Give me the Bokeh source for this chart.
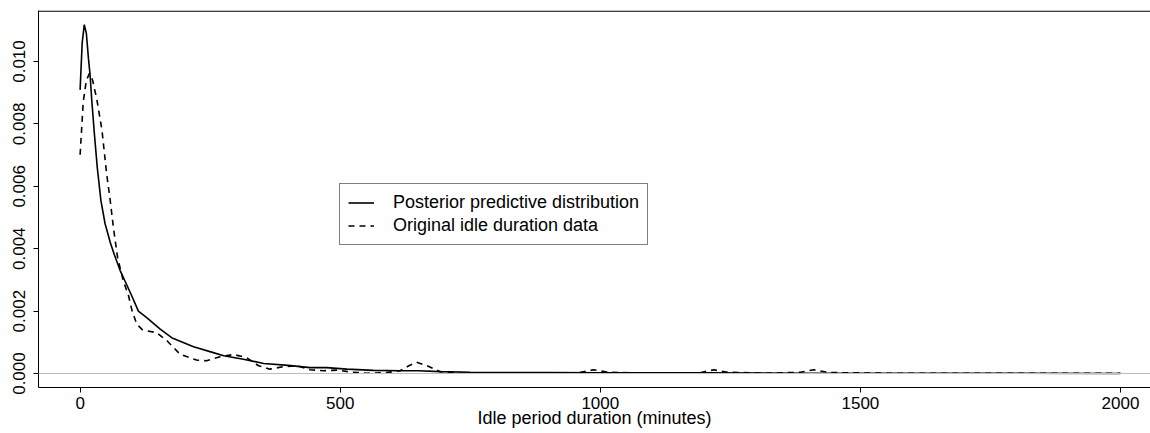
from bokeh.plotting import figure
from bokeh.models import Range1d, FixedTicker, PrintfTickFormatter, Span, Legend, LegendItem
from bokeh.embed import file_html
from bokeh.resources import INLINE

# Posterior predictive distribution (solid)
post_x = [0, 4, 8, 12, 16, 19, 22.5, 27.5, 33, 40, 48, 58, 66, 77, 88, 99, 112, 128, 154, 176,
          218, 256, 276, 314, 353, 400, 442, 474, 513, 564, 615, 650, 692, 750, 808, 900, 1000,
          1200, 1400, 1600, 1800, 2000]
post_y = [0.00909, 0.0106, 0.01118, 0.0109, 0.0101, 0.0096, 0.00874, 0.00767, 0.0066, 0.00554,
          0.0048, 0.0042, 0.0038, 0.0033, 0.0029, 0.0025, 0.0020, 0.00179, 0.00142, 0.00115,
          0.00086, 0.00067, 0.00057, 0.00046, 0.00032, 0.00026, 0.00019, 0.00019, 0.00014, 0.0001,
          0.00009, 0.00009, 0.00006, 0.00004, 0.00003, 0.00003, 0.00002, 0.00002, 0.00001, 0.00001,
          0.00001, 0.0]

# Original idle duration data (dashed)
orig_x = [0, 6, 12, 18, 24, 32, 42, 51, 58, 64, 72, 83, 93, 100, 109, 120, 128, 147, 167, 192,
          224, 243, 269, 295, 320, 343, 365, 391, 417, 442, 468, 494, 519, 551, 590, 615, 632, 647,
          667, 692, 730, 800, 900, 960, 987, 1015, 1100, 1190, 1218, 1245, 1320, 1385, 1410, 1440,
          1550, 1700, 1850, 2000]
orig_y = [0.00701, 0.0087, 0.0094, 0.00962, 0.0094, 0.0088, 0.0078, 0.0064, 0.00553, 0.00468,
          0.00372, 0.00297, 0.0025, 0.0020, 0.00158, 0.0014, 0.00137, 0.00131, 0.00105, 0.00062,
          0.00043, 0.00041, 0.00054, 0.00061, 0.00051, 0.00025, 0.00014, 0.00022, 0.00025, 0.00012,
          0.00009, 0.00011, 0.00005, 0.00001, 0.00003, 0.00009, 0.00025, 0.00036, 0.00025, 0.00006,
          0.00001, 0.00001, 0.00001, 0.00003, 0.00012, 0.00004, 0.00001, 0.00002, 0.00012, 0.00004,
          0.00001, 0.00004, 0.00012, 0.00003, 0.00001, 0.00001, 0.00001, 0.00001]

x_ticks = [0, 500, 1000, 1500, 2000]
y_ticks = [0.0, 0.002, 0.004, 0.006, 0.008, 0.010]
legend_labels = ["Posterior predictive distribution", "Original idle duration data"]
x_title = "Idle period duration (minutes)"

FONT = "Liberation Sans"
FS_TICK = "17px"
FS_TEXT = "18px"
Y_TOP = 0.011635

p = figure(frame_width=1112, frame_height=377, output_backend="svg", toolbar_location=None,
           x_range=Range1d(-80, 2057.7), y_range=Range1d(-0.000448, Y_TOP),
           min_border_left=38, min_border_right=0, min_border_top=10, min_border_bottom=40)
p.xgrid.visible = False
p.ygrid.visible = False
p.outline_line_color = None
p.background_fill_color = "white"
p.border_fill_color = "white"

p.add_layout(Span(location=0, dimension="width", line_color="#bebebe", line_width=1.2))
p.add_layout(Span(location=Y_TOP - 0.00002, dimension="width", line_color="black", line_width=1.2))

r1 = p.line(post_x, post_y, line_color="black", line_width=1.6)
r2 = p.line(orig_x, orig_y, line_color="black", line_width=1.6, line_dash="6 5")

xa = p.xaxis[0]
xa.ticker = FixedTicker(ticks=x_ticks)
xa.axis_label = x_title
xa.axis_label_text_font = FONT
xa.axis_label_text_font_size = FS_TEXT
xa.axis_label_text_font_style = "normal"
xa.axis_label_text_color = "black"
xa.axis_label_standoff = -4
xa.major_label_text_font = FONT
xa.major_label_text_font_size = FS_TICK
xa.major_label_text_color = "black"
xa.major_label_standoff = 4
xa.major_tick_out = 5
xa.major_tick_in = 0
xa.minor_tick_line_color = None
xa.axis_line_color = "black"
xa.major_tick_line_color = "black"

ya = p.yaxis[0]
ya.ticker = FixedTicker(ticks=y_ticks)
ya.formatter = PrintfTickFormatter(format="%.3f")
ya.major_label_orientation = "vertical"
ya.major_label_text_font = FONT
ya.major_label_text_font_size = FS_TICK
ya.major_label_text_color = "black"
ya.major_label_standoff = 8
ya.major_tick_out = 5
ya.major_tick_in = 0
ya.minor_tick_line_color = None
ya.axis_line_color = "black"
ya.major_tick_line_color = "black"

legend = Legend(items=[LegendItem(label=legend_labels[0], renderers=[r1]),
                       LegendItem(label=legend_labels[1], renderers=[r2])],
                location=(301, 142), orientation="vertical")
legend.label_text_font = FONT
legend.label_text_font_size = FS_TEXT
legend.label_text_color = "black"
legend.border_line_color = "black"
legend.border_line_width = 1
legend.background_fill_color = "white"
legend.background_fill_alpha = 1
legend.padding = 8
legend.margin = 0
legend.spacing = 2
legend.glyph_width = 26
legend.glyph_height = 21
legend.label_height = 21
legend.label_standoff = 19
p.add_layout(legend, "center")

open("out.html", "w").write(file_html(p, INLINE))
